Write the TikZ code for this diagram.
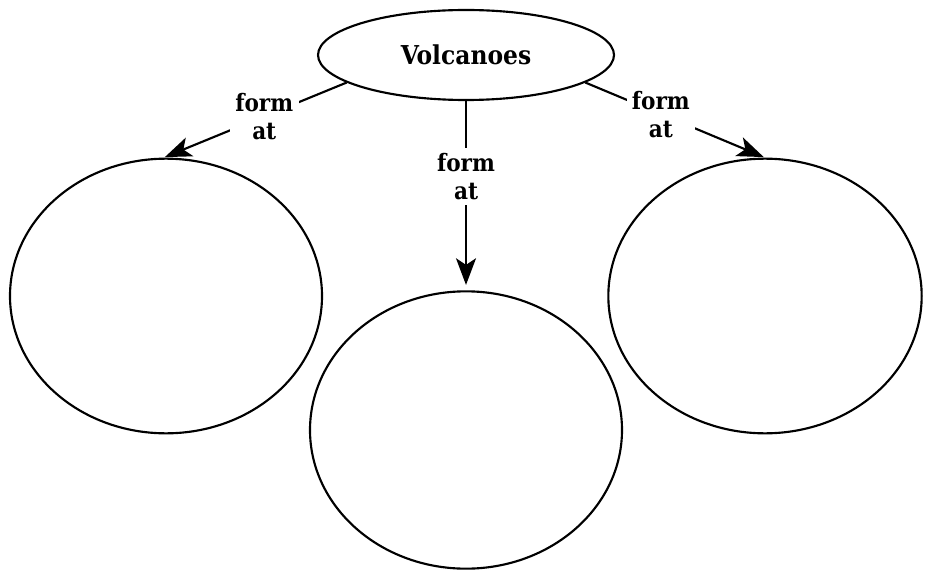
\documentclass[tikz,border=0pt]{standalone}
\usepackage{fontspec}
\setmainfont{DejaVu Serif Condensed}
\usetikzlibrary{shapes.geometric,arrows.meta}
\begin{document}
\begin{tikzpicture}[x=0.75pt,y=-0.75pt,
  bubble/.style={draw, ellipse, line width=1.6pt, inner sep=0pt},
  link/.style={line width=1.6pt, -{Stealth[length=20pt,width=15pt,inset=5pt]}},
  linklabel/.style={fill=white, align=center, font=\bfseries\fontsize{18}{21}\selectfont, inner sep=4pt}]
  \useasboundingbox (0,0) rectangle (930,570);
  % central topic
  \node[bubble, minimum width=222pt, minimum height=67.5pt] (top) at (466,55)
    {\bfseries\fontsize{19.5}{22}\selectfont Volcanoes};
  % empty answer bubbles
  \node[bubble, minimum width=234pt, minimum height=206pt] (left)  at (166,296) {};
  \node[bubble, minimum width=234pt, minimum height=208pt] (mid)   at (466,430) {};
  \node[bubble, minimum width=235pt, minimum height=206pt] (right) at (765,296) {};
  % connectors
  \draw[link, shorten >=1pt] (top.193) -- node[linklabel, pos=0.45] {form\\at} (left.91);
  \draw[link, shorten >=4pt] (top.south) -- node[linklabel, pos=0.4] {form\\at} (mid.north);
  \draw[link, shorten >=1pt] (top.347) -- node[linklabel, pos=0.42] {form\\at} (right.90);
\end{tikzpicture}
\end{document}
